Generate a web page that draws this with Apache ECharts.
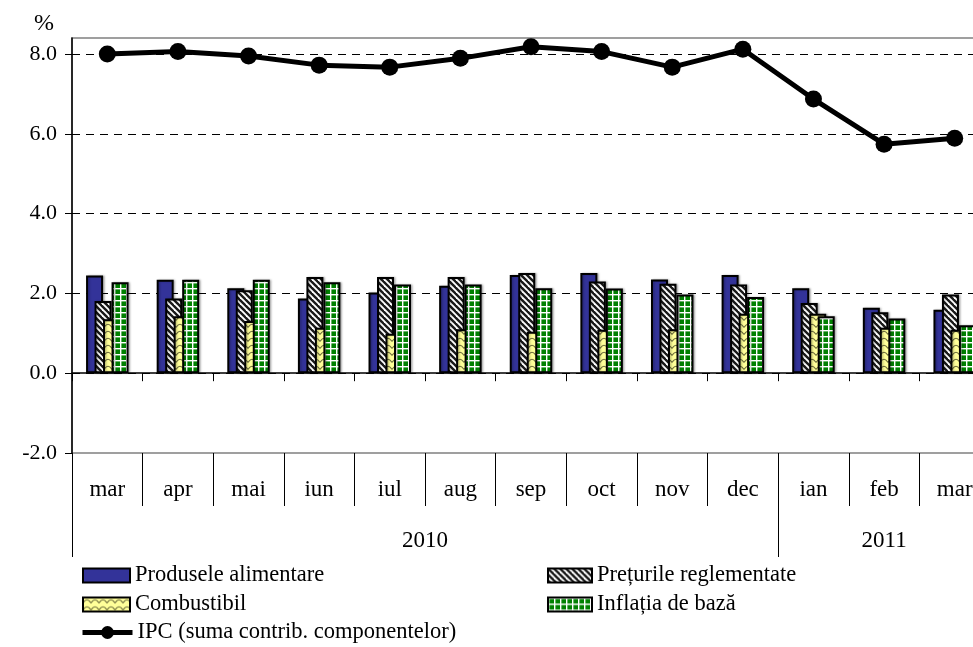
<!DOCTYPE html>
<html>
<head>
<meta charset="utf-8">
<script src="https://cdn.jsdelivr.net/npm/echarts@6/dist/echarts.min.js"></script>
<style>
  html, body { margin: 0; padding: 0; background: #fff; }
  #chart { width: 973px; height: 647px; }
</style>
</head>
<body>
<div id="chart"></div>
<script>
// Contributions to annual CPI inflation, percentage points
const months = ['mar', 'apr', 'mai', 'iun', 'iul', 'aug', 'sep', 'oct', 'nov', 'dec', 'ian', 'feb', 'mar'];
const years = ['2010', '2011'];
const monthsPerYear = [10, 3];

const foodValues      = [2.45, 2.34, 2.13, 1.87, 2.02, 2.19, 2.46, 2.51, 2.35, 2.46, 2.13, 1.64, 1.59];
const regulatedValues = [1.81, 1.87, 2.08, 2.41, 2.41, 2.41, 2.51, 2.30, 2.24, 2.22, 1.76, 1.53, 1.97];
const fuelValues      = [1.35, 1.43, 1.31, 1.14, 0.99, 1.10, 1.04, 1.09, 1.10, 1.49, 1.49, 1.14, 1.09];
const coreValues      = [2.28, 2.34, 2.34, 2.28, 2.22, 2.22, 2.13, 2.12, 1.97, 1.91, 1.43, 1.37, 1.20];
const cpiValues       = [8.00, 8.06, 7.95, 7.72, 7.67, 7.89, 8.18, 8.06, 7.67, 8.12, 6.87, 5.74, 5.89];

const seriesNames = [
  'Produsele alimentare',
  'Prețurile reglementate',
  'Combustibil',
  'Inflația de bază',
  'IPC (suma contrib. componentelor)'
];

// Year group boundaries and label positions along the month scale
const yearBounds = [0];
monthsPerYear.forEach(n => yearBounds.push(yearBounds[yearBounds.length - 1] + n));
const yearCenters = monthsPerYear.map((n, i) => yearBounds[i] + n / 2);

// Fill patterns for the bars
function tile(w, h, draw) {
  const c = document.createElement('canvas');
  c.width = w; c.height = h;
  draw(c.getContext('2d'), w, h);
  return { image: c, repeat: 'repeat' };
}
const stripePattern = tile(6, 6, (ctx, w, h) => {
  ctx.fillStyle = '#ffffff';
  ctx.fillRect(0, 0, w, h);
  ctx.strokeStyle = '#1a1a1a';
  ctx.lineWidth = 2.4;
  for (let k = -w; k <= w; k += w) {
    ctx.beginPath();
    ctx.moveTo(k - 1, -1);
    ctx.lineTo(k + w + 1, h + 1);
    ctx.stroke();
  }
});
const wavePattern = tile(8, 7, (ctx, w, h) => {
  ctx.fillStyle = '#ffff99';
  ctx.fillRect(0, 0, w, h);
  ctx.strokeStyle = '#6b6b3a';
  ctx.lineWidth = 1.1;
  ctx.beginPath();
  ctx.moveTo(0, 5.5);
  ctx.quadraticCurveTo(4, -1, 8, 5.5);
  ctx.stroke();
});
const gridPattern = tile(6, 6, (ctx, w, h) => {
  ctx.fillStyle = '#008000';
  ctx.fillRect(0, 0, w, h);
  ctx.fillStyle = '#ffffff';
  ctx.fillRect(0, 0, w, 1.4);
  ctx.fillRect(0, 0, 1.4, h);
});

const FONT = 'Liberation Serif, Times New Roman, serif';

const barBase = {
  type: 'bar',
  barWidth: 17,
  barGap: '-50%',
  xAxisIndex: 0,
  yAxisIndex: 0
};
function barStyle(color) {
  return {
    color: color,
    borderColor: '#000',
    borderWidth: 2,
    shadowColor: 'rgba(0,0,0,0.25)',
    shadowBlur: 2,
    shadowOffsetX: 1.5
  };
}

// One legend block per entry, laid out in two columns
function legendEntry(name, left, top, icon, width, extra) {
  const item = { name: name };
  if (icon) item.icon = icon;
  return Object.assign({
    orient: 'horizontal',
    left: left,
    top: top,
    itemWidth: width,
    itemHeight: 14,
    data: [item],
    textStyle: { fontFamily: FONT, fontSize: 22.5, color: '#000' }
  }, extra || {});
}

const chart = echarts.init(document.getElementById('chart'), null, { renderer: 'canvas' });

chart.setOption({
  animation: false,
  backgroundColor: '#ffffff',
  title: {
    text: '%',
    left: 29,
    top: 7,
    textStyle: { fontFamily: FONT, fontSize: 24, fontWeight: 'normal', color: '#000' }
  },
  grid: {
    left: 72,
    top: 38,
    width: 918,
    bottom: 194,
    show: true,
    borderColor: '#808080',
    borderWidth: 1.5,
    containLabel: false,
    outerBoundsMode: 'none'
  },
  legend: [
    legendEntry(seriesNames[0], 77, 559, 'rect', 47),
    legendEntry(seriesNames[1], 542, 559, 'rect', 44),
    legendEntry(seriesNames[2], 77, 588, 'rect', 47),
    legendEntry(seriesNames[3], 542, 588, 'rect', 44),
    legendEntry(seriesNames[4], 75, 616, null, 50, {
      itemHeight: 16,
      lineStyle: { width: 5 }
    })
  ],
  xAxis: [
    {
      // category axis crossing at zero with boundary ticks
      type: 'category',
      data: months,
      boundaryGap: true,
      axisLine: { show: true, onZero: true, lineStyle: { color: '#000', width: 1.5 } },
      axisTick: { show: true, interval: 0, length: 8, lineStyle: { color: '#000', width: 1 } },
      axisLabel: { show: false },
      splitLine: { show: false }
    },
    {
      // month labels under the plot
      type: 'category',
      data: months,
      position: 'bottom',
      boundaryGap: true,
      axisLine: { show: false, onZero: false },
      axisTick: { show: true, interval: 0, length: 53, lineStyle: { color: '#000', width: 1 } },
      axisLabel: {
        interval: 0,
        margin: 25,
        fontFamily: FONT,
        fontSize: 23,
        color: '#000'
      },
      splitLine: { show: false }
    },
    {
      // year labels
      type: 'value',
      min: 0,
      max: yearBounds[yearBounds.length - 1],
      position: 'bottom',
      offset: 53,
      axisLine: { show: false, onZero: false },
      axisTick: {
        show: true,
        length: 51,
        customValues: yearBounds,
        lineStyle: { color: '#000', width: 1 }
      },
      axisLabel: {
        customValues: yearCenters,
        formatter: v => {
          const i = yearCenters.indexOf(v);
          return i >= 0 ? years[i] : '';
        },
        margin: 23,
        fontFamily: FONT,
        fontSize: 23,
        color: '#000',
        showMinLabel: true,
        showMaxLabel: true
      },
      splitLine: { show: false }
    }
  ],
  yAxis: {
    type: 'value',
    min: -2,
    max: 8.4,
    interval: 2,
    axisLine: { show: true, onZero: false, lineStyle: { color: '#000', width: 1.5 } },
    axisTick: { show: true, length: 7, lineStyle: { color: '#000', width: 1 } },
    axisLabel: {
      margin: 15,
      fontFamily: FONT,
      fontSize: 22,
      color: '#000',
      showMaxLabel: false,
      formatter: v => v.toFixed(1)
    },
    splitLine: {
      show: true,
      showMinLine: false,
      showMaxLine: false,
      lineStyle: { color: '#000', width: 1, type: [8, 6] }
    }
  },
  series: [
    Object.assign({ name: seriesNames[0], data: foodValues, itemStyle: barStyle('#333399') }, barBase),
    Object.assign({ name: seriesNames[1], data: regulatedValues, itemStyle: barStyle(stripePattern) }, barBase),
    Object.assign({ name: seriesNames[2], data: fuelValues, itemStyle: barStyle(wavePattern) }, barBase),
    Object.assign({ name: seriesNames[3], data: coreValues, itemStyle: barStyle(gridPattern) }, barBase),
    {
      name: seriesNames[4],
      type: 'line',
      xAxisIndex: 0,
      yAxisIndex: 0,
      data: cpiValues,
      symbol: 'circle',
      symbolSize: 17,
      lineStyle: { color: '#000', width: 5 },
      itemStyle: { color: '#000' },
      z: 5
    }
  ]
});
</script>
</body>
</html>
